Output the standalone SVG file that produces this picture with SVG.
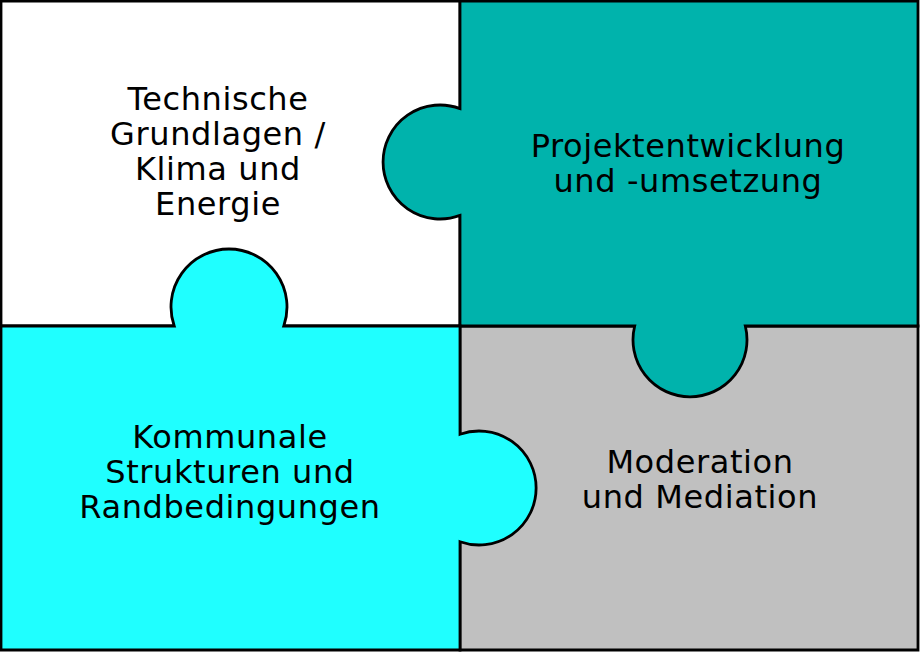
<svg xmlns="http://www.w3.org/2000/svg" width="920" height="652" viewBox="0 0 920 652">
<style>
.piece{stroke:#000;stroke-width:2.8;stroke-linejoin:miter}
.lbl{font-family:"DejaVu Sans","Verdana",sans-serif;font-size:32px;letter-spacing:0.6px;fill:#000;text-anchor:middle}
</style>
<rect width="920" height="652" fill="#ffffff"/>
<g id="node-technische">
<path class="piece" fill="#ffffff" d="M1,1 H460 V326 H1 Z"/>
<text class="lbl"><tspan x="218" y="110">Technische</tspan><tspan x="218" y="145">Grundlagen /</tspan><tspan x="218" y="180">Klima und</tspan><tspan x="218" y="215">Energie</tspan></text>
</g>
<g id="node-moderation">
<path class="piece" fill="#c0c0c0" d="M460,326 H918 V650 H460 Z"/>
<text class="lbl"><tspan x="700" y="473">Moderation</tspan><tspan x="700" y="508">und Mediation</tspan></text>
</g>
<g id="node-projekt">
<path class="piece" fill="#00b3ac" d="M460,1 H918 V326 H745.3 A57,57 0 1,1 634.7,326 H460 V215.4 A57,57 0 1,1 460,108.6 Z"/>
<text class="lbl"><tspan x="688" y="157">Projektentwicklung</tspan><tspan x="688" y="192">und -umsetzung</tspan></text>
</g>
<g id="node-kommunale">
<path class="piece" fill="#1fffff" d="M1,326 H174.2 A58,58 0 1,1 283.8,326 H460 V434.3 A57,57 0 1,1 460,541.7 V650 H1 Z"/>
<text class="lbl"><tspan x="230" y="448">Kommunale</tspan><tspan x="230" y="483">Strukturen und</tspan><tspan x="230" y="518">Randbedingungen</tspan></text>
</g>
<g id="connectors"></g>
</svg>
